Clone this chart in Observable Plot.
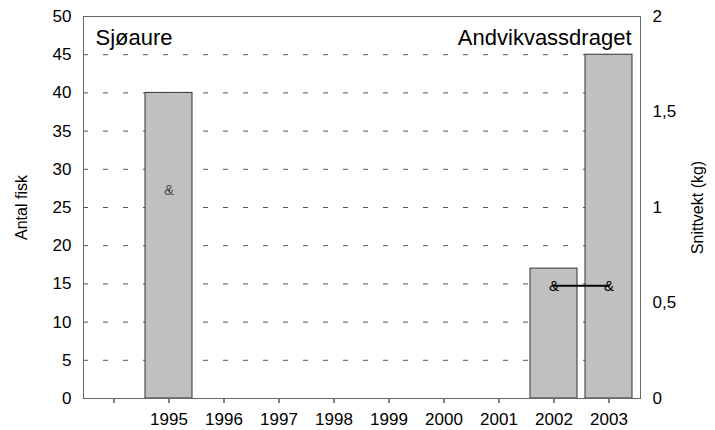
<!DOCTYPE html>
<html><head><meta charset="utf-8">
<script src="https://cdn.jsdelivr.net/npm/d3@7"></script>
<script src="https://cdn.jsdelivr.net/npm/@observablehq/plot@0.6"></script>
<style>
body{margin:0;background:#fff;}
#chart svg g[aria-label$="tick label"], #chart svg g[aria-label$="tick label"] text { font-size: 17px !important; }
#chart svg g[aria-label$="axis label"], #chart svg g[aria-label$="axis label"] text { font-size: 16px !important; }
</style>
</head><body><div id="chart"></div>
<script>
const years = [" ", "1995", "1996", "1997", "1998", "1999", "2000", "2001", "2002", "2003"];
const counts = [0, 40, null, null, null, null, null, null, 17, 45];
const weightsKg = [null, 1.09, null, null, null, null, null, null, 0.59, 0.59];
const leftTicks = [0, 5, 10, 15, 20, 25, 30, 35, 40, 45, 50];
const rightTicksKg = [0, 0.5, 1, 1.5, 2];
const gridLines = [5, 10, 15, 20, 25, 30, 35, 40, 45];
const speciesLabel = "Sjøaure";
const areaLabel = "Andvikvassdraget";
const leftLabel = "Antal fisk";
const rightLabel = "Snittvekt (kg)";

const kgScale = 25; // 2 kg on right axis == 50 on left axis
const rows = years.map((y, i) => ({year: y, count: counts[i], kg: weightsKg[i]}));
const fmt = v => String(v).replace(".", ",");

const chart = Plot.plot({
  width: 715,
  height: 430,
  marginLeft: 83,
  marginRight: 75,
  marginTop: 16,
  marginBottom: 32,
  style: {fontFamily: "'Liberation Sans', Arial, sans-serif", fontSize: "16px", color: "#000", background: "#fff"},
  x: {domain: years, paddingInner: 0.14, paddingOuter: 0.05},
  y: {domain: [0, 50]},
  marks: [
    Plot.ruleY(gridLines, {stroke: "#555", strokeDasharray: "5,15", strokeWidth: 1}),
    Plot.barY(rows.filter(d => d.count != null && d.count > 0), {x: "year", y: "count", fill: "#c0c0c0", stroke: "#333", strokeWidth: 1}),
    Plot.barY(rows.filter(d => d.count === 0), {x: "year", y: "count", stroke: "#000", strokeWidth: 2}),
    Plot.ruleY([0], {stroke: "#555", strokeWidth: 1}),
    Plot.line(rows, {x: "year", y: d => d.kg == null ? NaN : d.kg * kgScale, stroke: "#000", strokeWidth: 2}),
    Plot.text(rows.filter(d => d.kg != null), {x: "year", y: d => d.kg * kgScale, text: () => "&", fontSize: 15,
      fill: d => d.year === "1995" ? "#555" : "#000"}),
    Plot.text([speciesLabel], {frameAnchor: "top-left", dx: 12, dy: 13, fontSize: 22, textAnchor: "start"}),
    Plot.text([areaLabel], {frameAnchor: "top-right", dx: -9, dy: 13, fontSize: 22, textAnchor: "end"}),
    Plot.axisX({tickSize: 5, tickPadding: 9, label: null, stroke: "#000"}),
    Plot.axisY({anchor: "left", ticks: leftTicks, tickSize: 0, tickPadding: 12, label: leftLabel, labelAnchor: "center", labelOffset: 68, labelArrow: "none"}),
    Plot.axisY({anchor: "right", ticks: rightTicksKg.map(v => v * kgScale), tickFormat: v => fmt(v / kgScale), tickSize: 0, tickPadding: 12, label: rightLabel, labelAnchor: "center", labelOffset: 62, labelArrow: "none"}),
    Plot.frame({stroke: "#666"})
  ]
});
document.getElementById("chart").appendChild(chart);
</script>
</body></html>
